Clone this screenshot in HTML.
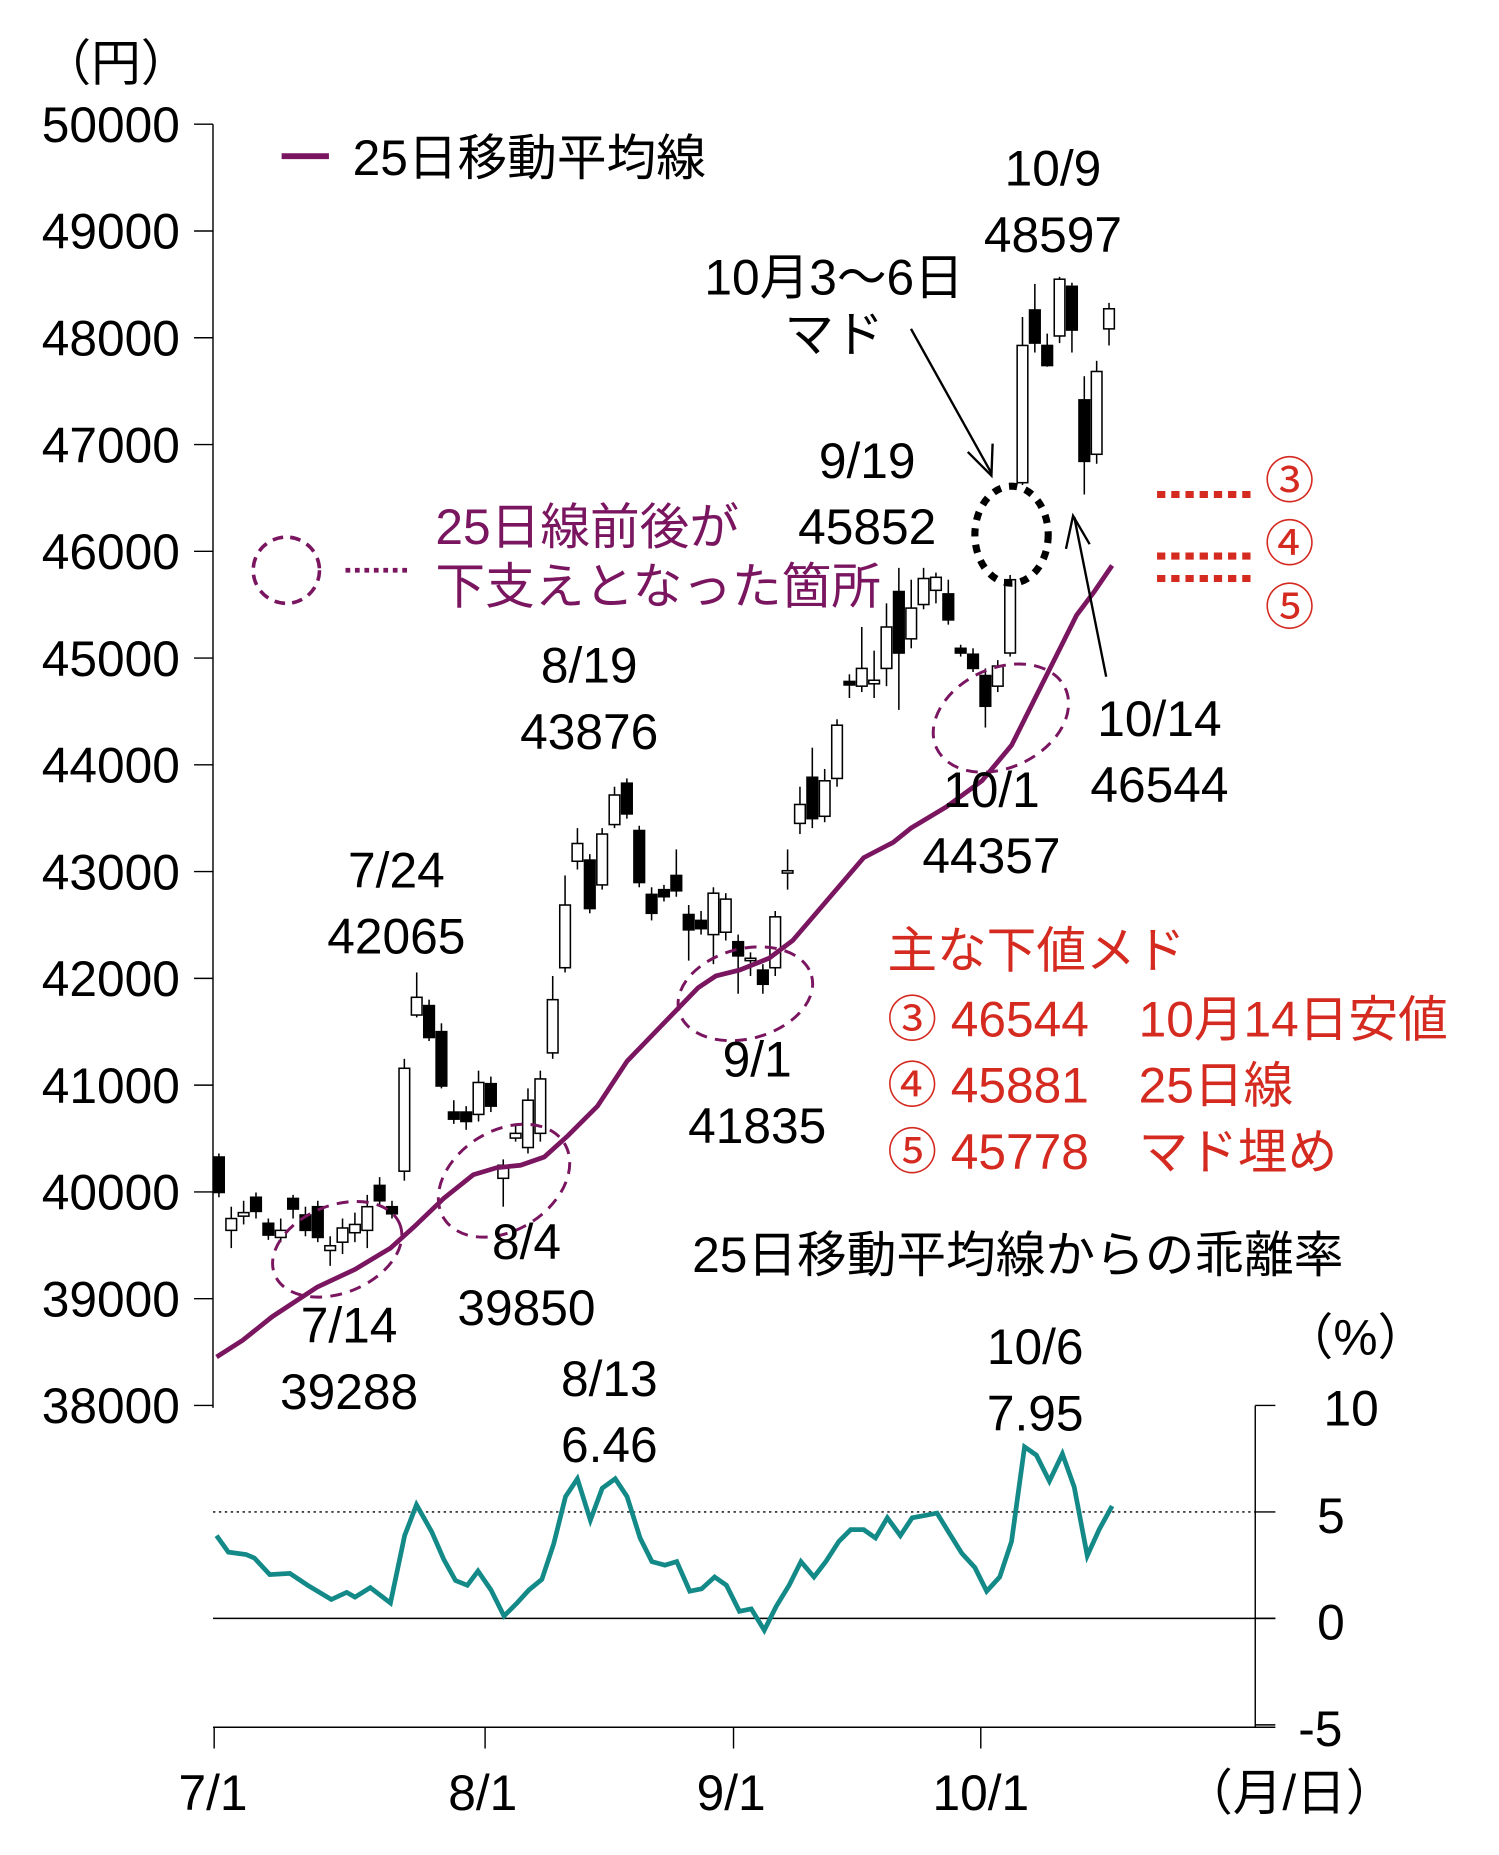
<!DOCTYPE html>
<html><head><meta charset="utf-8"><style>
html,body{margin:0;padding:0;background:#fff}
svg{display:block}
text{font-family:"Liberation Sans","Noto Sans CJK JP",sans-serif;font-size:42px;fill:#000}
.r{fill:#d42a20}.p{fill:#7a1560}
</style></head><body>
<svg id="s" width="1499" height="1855" viewBox="0 0 1267 1568" xmlns="http://www.w3.org/2000/svg">
<g stroke="#000" stroke-width="1.2" fill="none">
<line x1="180" y1="105" x2="180" y2="1190"/>
<g id="yt"></g>
<line x1="1061" y1="1188" x2="1061" y2="1460"/>
<line x1="1061" y1="1188" x2="1078" y2="1188"/><line x1="1061" y1="1278" x2="1078" y2="1278"/>
<line x1="1061" y1="1368" x2="1078" y2="1368"/><line x1="1061" y1="1458" x2="1078" y2="1458"/>
<line x1="180" y1="1368" x2="1078" y2="1368"/>
<line x1="180" y1="1278" x2="1061" y2="1278" stroke-dasharray="2,3"/>
<line x1="180" y1="1460" x2="1078" y2="1460"/>
<line x1="181" y1="1460" x2="181" y2="1478"/><line x1="410" y1="1460" x2="410" y2="1478"/>
<line x1="620" y1="1460" x2="620" y2="1478"/><line x1="829" y1="1460" x2="829" y2="1478"/>
</g>
<g>
<text x="35" y="68">（円）</text>
<g text-anchor="end" id="yl" font-size="44"></g>
<text x="1142" y="1205" text-anchor="middle" font-size="52">10</text>
<text x="1125" y="1296" text-anchor="middle" font-size="52">5</text>
<text x="1125" y="1386" text-anchor="middle" font-size="52">0</text>
<text x="1116" y="1476" text-anchor="middle" font-size="52">-5</text>
<text x="1085" y="1145">（%）</text>
<text x="180" y="1530" text-anchor="middle" font-size="44">7/1</text>
<text x="408" y="1530" text-anchor="middle" font-size="44">8/1</text>
<text x="618" y="1530" text-anchor="middle" font-size="44">9/1</text>
<text x="829" y="1530" text-anchor="middle" font-size="44">10/1</text>
<text x="1000" y="1530" font-size="44">（月/日）</text>
</g>
<line x1="238" y1="132" x2="278" y2="132" stroke="#7a1560" stroke-width="5"/>
<text x="298" y="148">25日移動平均線</text>
<circle cx="242" cy="482" r="28" fill="none" stroke="#7a1560" stroke-width="3" stroke-dasharray="9,6"/>
<line x1="292" y1="482" x2="345" y2="482" stroke="#7a1560" stroke-width="4" stroke-dasharray="4,4"/>
<text class="p" x="368" y="460" font-size="38">25日線前後が</text>
<text class="p" x="368" y="510" font-size="38">下支えとなった箇所</text>
<g id="c" stroke="#000" stroke-width="1.3"></g>
<polyline fill="none" stroke="#7a1560" stroke-width="4" points="183,1147 205,1133 230,1113 268,1088 300,1073 330,1055 350,1037 375,1013 400,993 420,987 440,985 460,978 480,960 505,935 530,897 560,866 590,835 605,825 625,820 650,810 670,795 700,760 730,725 755,712 770,700 800,682 830,660 855,630 875,590 895,550 910,520 925,500 940,478"/>
<g fill="none" stroke="#7a1560" stroke-width="2.5" stroke-dasharray="10,7">
<ellipse cx="285" cy="1056" rx="57" ry="37" transform="rotate(-22 285 1056)"/>
<ellipse cx="426" cy="998" rx="60" ry="42" transform="rotate(-32 426 998)"/>
<ellipse cx="630" cy="840" rx="58" ry="38" transform="rotate(-15 630 840)"/>
<ellipse cx="846" cy="607" rx="60" ry="42" transform="rotate(-25 846 607)"/>
</g>
<ellipse cx="855" cy="452" rx="31" ry="41" fill="none" stroke="#000" stroke-width="6" stroke-dasharray="7,7"/>
<g stroke="#000" stroke-width="2" fill="none">
<line x1="770" y1="278" x2="838" y2="400"/><polyline points="818,382 838,402 839,375"/>
<line x1="935" y1="572" x2="908" y2="437"/><polyline points="901,464 907,436 921,460"/>
</g>
<g stroke="#d42a20" stroke-width="6" stroke-dasharray="7,5">
<line x1="978" y1="418" x2="1058" y2="418"/><line x1="978" y1="470" x2="1058" y2="470"/><line x1="978" y1="489" x2="1058" y2="489"/>
</g>
<text class="r" x="1090" y="421" text-anchor="middle" font-size="44">③</text>
<text class="r" x="1090" y="474" text-anchor="middle" font-size="44">④</text>
<text class="r" x="1090" y="528" text-anchor="middle" font-size="44">⑤</text>
<polyline fill="none" stroke="#138a88" stroke-width="4" points="183,1298 193,1312 208,1314 215,1317 228,1331 245,1330 260,1340 280,1352 293,1346 300,1350 313,1342 330,1355 342,1298 352,1272 365,1295 375,1318 385,1336 395,1340 404,1328 415,1344 426,1366 437,1355 447,1344 458,1335 468,1305 478,1265 488,1250 499,1285 509,1258 520,1250 530,1265 541,1300 551,1320 562,1323 572,1320 583,1345 593,1343 604,1333 614,1340 625,1362 635,1360 646,1378 656,1358 667,1340 677,1320 688,1333 698,1320 709,1303 719,1293 730,1293 740,1300 750,1283 761,1298 771,1283 782,1281 792,1279 803,1297 813,1313 824,1325 834,1345 845,1333 855,1303 866,1223 876,1230 887,1252 898,1229 908,1257 919,1315 929,1293 940,1273"/>
<g text-anchor="middle" font-size="43">
<text x="890" y="157">10/9</text><text x="890" y="213">48597</text>
<text x="705" y="249" font-size="38">10月3〜6日</text><text x="705" y="297" font-size="38">マド</text>
<text x="733" y="404">9/19</text><text x="733" y="460">45852</text>
<text x="498" y="577">8/19</text><text x="498" y="633">43876</text>
<text x="335" y="750">7/24</text><text x="335" y="806">42065</text>
<text x="980" y="622">10/14</text><text x="980" y="678">46544</text>
<text x="838" y="682">10/1</text><text x="838" y="738">44357</text>
<text x="640" y="910">9/1</text><text x="640" y="966">41835</text>
<text x="445" y="1064">8/4</text><text x="445" y="1120">39850</text>
<text x="295" y="1135">7/14</text><text x="295" y="1191">39288</text>
<text x="515" y="1180">8/13</text><text x="515" y="1236">6.46</text>
<text x="875" y="1153">10/6</text><text x="875" y="1209">7.95</text>
</g>
<text x="585" y="1075" font-size="38">25日移動平均線からの乖離率</text>
<g font-size="40">
<text class="r" x="750" y="818">主な下値メド</text>
<text class="r" x="750" y="876">③ 46544　10月14日安値</text>
<text class="r" x="750" y="932">④ 45881　25日線</text>
<text class="r" x="750" y="988">⑤ 45778　マド埋め</text>
</g>
</svg>
<script>
var NS="http://www.w3.org/2000/svg",s=document.getElementById('s');
function el(p,t,a){var e=document.createElementNS(NS,t);for(var k in a)e.setAttribute(k,a[k]);p.appendChild(e);return e;}
var yt=document.getElementById('yt'),yl=document.getElementById('yl');
for(var i=0;i<=12;i++){var y=105+i*90.25;el(yt,'line',{x1:164,y1:y,x2:180,y2:y});var t=el(yl,'text',{x:152,y:y+15});t.textContent=50000-i*1000;}
var d=[[0,978,1008,'b',975,1012],[1,1030,1040,'w',1020,1055],[2,1025,1028,'w',1015,1035],[3,1012,1024,'b',1008,1030],[4,1034,1044,'b',1030,1048],[5,1040,1046,'w',1030,1050],[6,1013,1022,'b',1010,1030],[7,1027,1040,'b',1020,1045],[8,1020,1046,'b',1015,1050],[9,1053,1057,'w',1045,1070],[10,1038,1050,'w',1030,1060],[11,1035,1042,'w',1025,1050],[12,1020,1040,'w',1010,1055],[13,1002,1015,'b',995,1020],[14,1020,1026,'b',1015,1030],[15,903,990,'w',895,998],[16,843,858,'w',822,860],[17,850,877,'b',845,880],[18,872,918,'b',865,920],[19,940,946,'b',930,950],[20,940,948,'b',935,955],[21,915,942,'w',905,948],[22,916,935,'b',910,940],[23,985,996,'w',980,1020],[24,958,962,'w',950,965],[25,930,970,'w',920,975],[26,912,958,'w',905,965],[27,845,890,'w',825,895],[28,765,818,'w',740,822],[29,713,728,'w',700,735],[30,727,768,'b',722,772],[31,705,748,'w',700,752],[32,672,697,'w',665,700],[33,662,688,'b',658,692],[34,702,746,'b',698,750],[35,756,772,'b',750,778],[36,752,758,'b',748,762],[37,740,753,'b',718,758],[38,773,786,'b',765,812],[39,778,785,'b',770,790],[40,755,790,'w',750,815],[41,760,788,'w',755,795],[42,796,808,'b',790,840],[43,810,812,'w',805,825],[44,820,832,'b',815,840],[45,775,818,'w',770,825],[46,736,738,'w',718,752],[47,680,696,'w',665,705],[48,657,692,'b',632,700],[49,660,690,'w',650,695],[50,613,658,'w',608,665],[51,576,579,'b',570,590],[52,565,580,'w',530,585],[53,575,578,'w',550,590],[54,530,565,'w',510,580],[55,500,552,'b',480,600],[56,514,540,'w',490,548],[57,489,511,'w',480,515],[58,488,499,'w',484,510],[59,502,524,'b',490,528],[60,548,552,'b',545,555],[61,553,565,'b',548,568],[62,571,597,'b',565,615],[63,563,580,'w',558,585],[64,490,552,'w',486,555],[65,292,408,'w',268,410],[66,262,290,'b',240,298],[67,292,309,'b',282,310],[68,236,284,'w',234,290],[69,242,279,'b',239,298],[70,338,390,'b',318,418],[71,314,384,'w',305,392],[72,261,278,'w',256,292]];
var c=document.getElementById('c');
d.forEach(function(q){var x=185+q[0]*10.45;el(c,'line',{x1:x,y1:q[4],x2:x,y2:q[5]});el(c,'rect',{x:x-4.5,y:q[1],width:9,height:Math.max(2,q[2]-q[1]),fill:q[3]=='b'?'#000':'#fff'});});
</script>
</body></html>
